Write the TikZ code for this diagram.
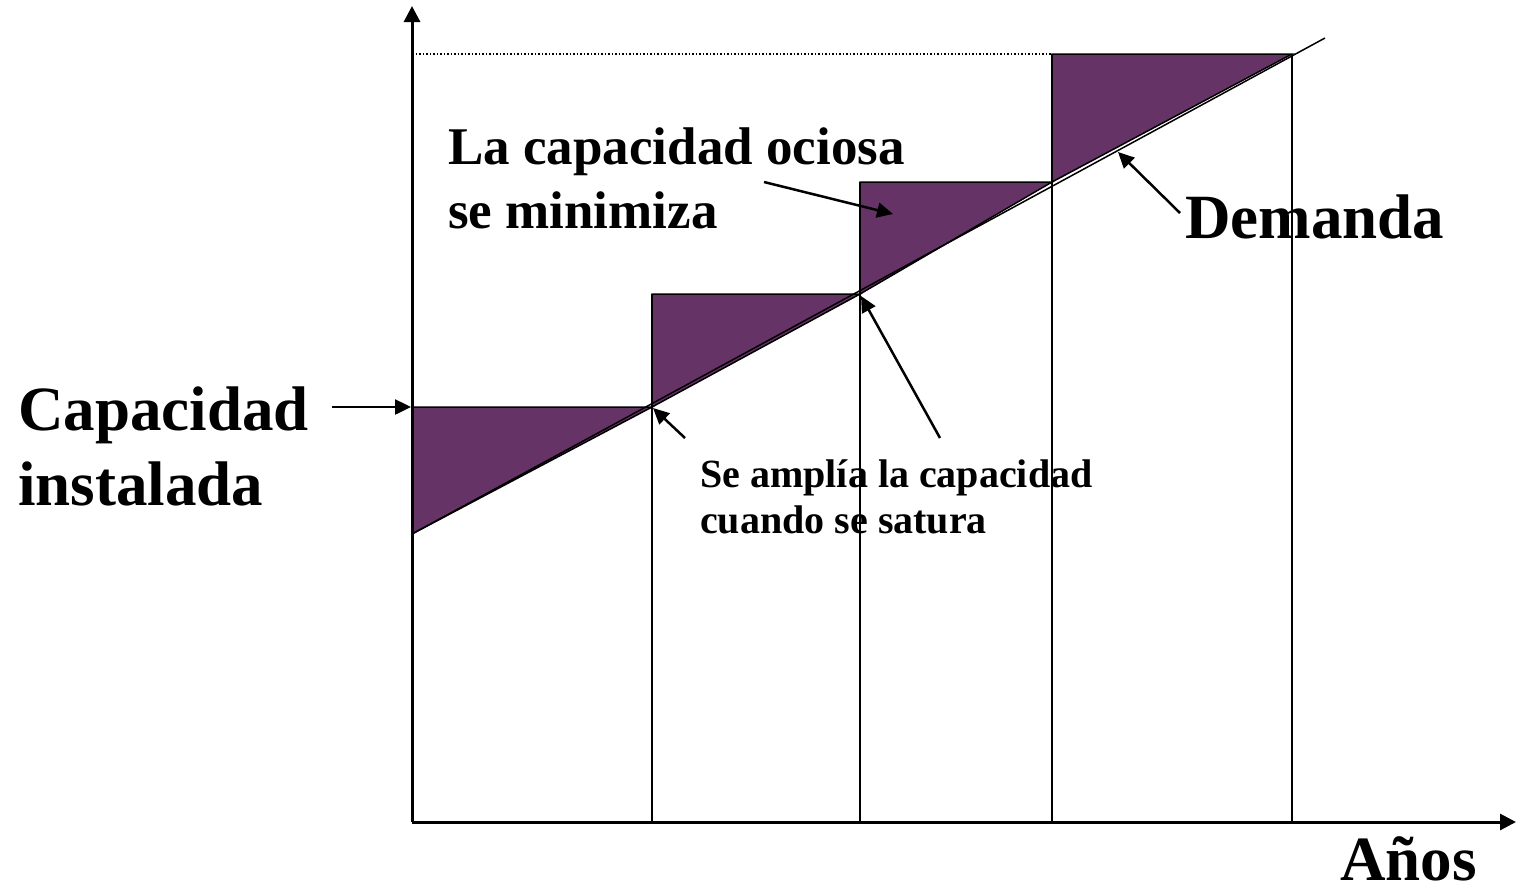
\documentclass[tikz,border=0pt]{standalone}
\usepackage{fontspec}
\setmainfont{Liberation Serif}
\usetikzlibrary{arrows.meta}
\definecolor{plum}{HTML}{663366}
\tikzset{
  axis/.style={line width=3pt,-{Triangle[length=16pt,width=16pt]}},
  thin/.style={line width=1.5pt},
  pointer/.style={line width=2.5pt,-{Triangle[length=16pt,width=15pt]}},
  idle/.style={fill=plum,draw=black,line width=1.5pt,line join=miter},
  bigtxt/.style={anchor=base west,inner sep=0pt,align=left,font=\fontsize{63}{75}\selectfont\bfseries},
  midtxt/.style={anchor=base west,inner sep=0pt,align=left,font=\fontsize{53}{64}\selectfont\bfseries},
  smalltxt/.style={anchor=base west,inner sep=0pt,align=left,font=\fontsize{40}{46}\selectfont\bfseries}
}
\begin{document}
\begin{tikzpicture}[x=1pt,y=-1pt]
\useasboundingbox (0,0) rectangle (1517,892);
% key points
\coordinate (O) at (412,822);
\coordinate (Ytop) at (412,6);
\coordinate (Xend) at (1516,822);
\coordinate (D0) at (412,534);
\coordinate (C0) at (412,407);
\coordinate (P1) at (652,407);
\coordinate (C1) at (652,294);
\coordinate (P2) at (860,294);
\coordinate (C2) at (860,182);
\coordinate (P3) at (1052,182);
\coordinate (C3) at (1052,54);
\coordinate (P4) at (1292,54);
\coordinate (Dend) at (1325,38);
\coordinate (B1) at (652,822);
\coordinate (B2) at (860,822);
\coordinate (B3) at (1052,822);
\coordinate (B4) at (1292,822);
\coordinate (Ytick) at (412,54);
% texts (base = last line)
\node[smalltxt] (amp) at (700,533) {Se amplía la capacidad\\cuando se satura};
\node[midtxt] (ocio) at (448,228) {La capacidad ociosa\\se minimiza};
\node[bigtxt] (dem) at (1185,238) {Demanda};
\node[bigtxt] (cap) at (18,505) {Capacidad\\instalada};
\node[bigtxt] (anos) at (1340,880) {Años};
% idle capacity triangles
\draw[idle] (D0) -- (C0) -- (P1) -- cycle;
\draw[idle] (P1) -- (C1) -- (P2) -- cycle;
\draw[idle] (P2) -- (C2) -- (P3) -- cycle;
\draw[idle] (P3) -- (C3) -- (P4) -- cycle;
% vertical lines
\draw[thin] (C1) -- (B1);
\draw[thin] (C2) -- (B2);
\draw[thin] (C3) -- (B3);
\draw[thin] (P4) -- (B4);
\draw[line width=1.5pt,dotted] (Ytick) -- (C3);
% demand line
\draw[thin] (D0) -- (Dend);
% axes
\draw[axis] (O) -- (Ytop);
\draw[axis] (O) -- (Xend);
% pointers
\coordinate (capT) at (332,407);
\coordinate (capH) at (411,407);
\draw[pointer] (capT) -- (capH);
\coordinate (a1T) at (685,438);
\coordinate (a1H) at (653,408);
\draw[pointer] (a1T) -- (a1H);
\coordinate (a2T) at (940,438);
\coordinate (a2H) at (861,296);
\draw[pointer] (a2T) -- (a2H);
\coordinate (oT) at (764,182);
\coordinate (oH) at (893,214);
\draw[pointer] (oT) -- (oH);
\coordinate (dT) at (1180,213);
\coordinate (dH) at (1118,152);
\draw[pointer] (dT) -- (dH);
\end{tikzpicture}
\end{document}
